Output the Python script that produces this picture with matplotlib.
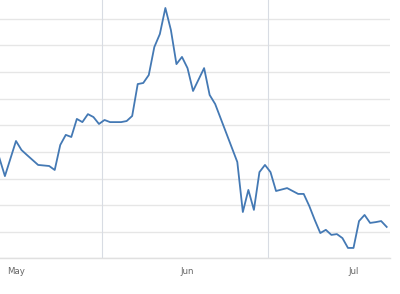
import matplotlib
matplotlib.use("Agg")
import matplotlib.pyplot as plt
import pandas as pd

LINE = "#4479B4"
GRID = "#E6E6E6"
VGRID = "#D8DCE3"
LABEL = "#666666"

# daily series (unitless)
dates = [
    "2020-04-28", "2020-04-29", "2020-05-01", "2020-05-02", "2020-05-03",
    "2020-05-05", "2020-05-07", "2020-05-08", "2020-05-09", "2020-05-10",
    "2020-05-11", "2020-05-12", "2020-05-13", "2020-05-14", "2020-05-15",
    "2020-05-16", "2020-05-17", "2020-05-18", "2020-05-20", "2020-05-21",
    "2020-05-22", "2020-05-23", "2020-05-24", "2020-05-25", "2020-05-26",
    "2020-05-27", "2020-05-28", "2020-05-29", "2020-05-30", "2020-05-31",
    "2020-06-01", "2020-06-02", "2020-06-04", "2020-06-05", "2020-06-06",
    "2020-06-10", "2020-06-11", "2020-06-12", "2020-06-13", "2020-06-14",
    "2020-06-15", "2020-06-16", "2020-06-17", "2020-06-19", "2020-06-21",
    "2020-06-22", "2020-06-23", "2020-06-24", "2020-06-25", "2020-06-26",
    "2020-06-27", "2020-06-28", "2020-06-29", "2020-06-30", "2020-07-01",
    "2020-07-02", "2020-07-03", "2020-07-04", "2020-07-05", "2020-07-06",
    "2020-07-07",
]
values = [
    37.7, 30.9, 44.1, 40.7, 38.8,
    35.1, 34.7, 33.2, 42.6, 46.4,
    45.6, 52.4, 51.2, 54.2, 53.1,
    50.5, 52.0, 51.2, 51.2, 51.6,
    53.5, 65.5, 65.9, 68.9, 79.4,
    84.3, 94.1, 85.8, 73.0, 75.7,
    71.5, 62.9, 71.5, 61.4, 58.0,
    36.2, 17.4, 25.7, 18.2, 32.4,
    35.1, 32.4, 25.3, 26.4, 24.2,
    24.2, 19.7, 14.4, 9.5, 10.7,
    8.8, 9.1, 7.6, 3.9, 3.9,
    14.0, 16.3, 13.3, 13.6, 14.0,
    11.8,
]
month_ticks = ["2020-05-01", "2020-06-01", "2020-07-01"]
month_labels = ["May", "Jun", "Jul"]
vgrid_at = ["2020-05-16 12:00", "2020-06-15 12:00"]

x = pd.to_datetime(dates)

fig = plt.figure(figsize=(4.0, 2.94), dpi=100)
ax = fig.add_axes([0.0, 0.1214, 0.975, 0.8786])

# horizontal grid every 10 units
for v in range(0, 100, 10):
    ax.axhline(v, color=GRID, linewidth=1.0, zorder=0)
for d in vgrid_at:
    ax.axvline(pd.Timestamp(d), color=VGRID, linewidth=0.8, zorder=0)

ax.plot(x, values, color=LINE, linewidth=1.3, zorder=3)

ax.set_xlim(pd.Timestamp("2020-04-28 02:40"), pd.Timestamp("2020-07-07 14:20"))
ax.set_ylim(0, 97.1)

ax.set_xticks(pd.to_datetime(month_ticks))
ax.set_xticklabels(month_labels, fontsize=6.2, color=LABEL)
ax.tick_params(axis="x", length=0, pad=6)
ax.set_yticks([])

for side in ["top", "right", "left"]:
    ax.spines[side].set_visible(False)
ax.spines["bottom"].set_color("#E0E0E0")
ax.spines["bottom"].set_linewidth(1.0)
ax.set_facecolor("white")

fig.savefig("out.png", dpi=100)
